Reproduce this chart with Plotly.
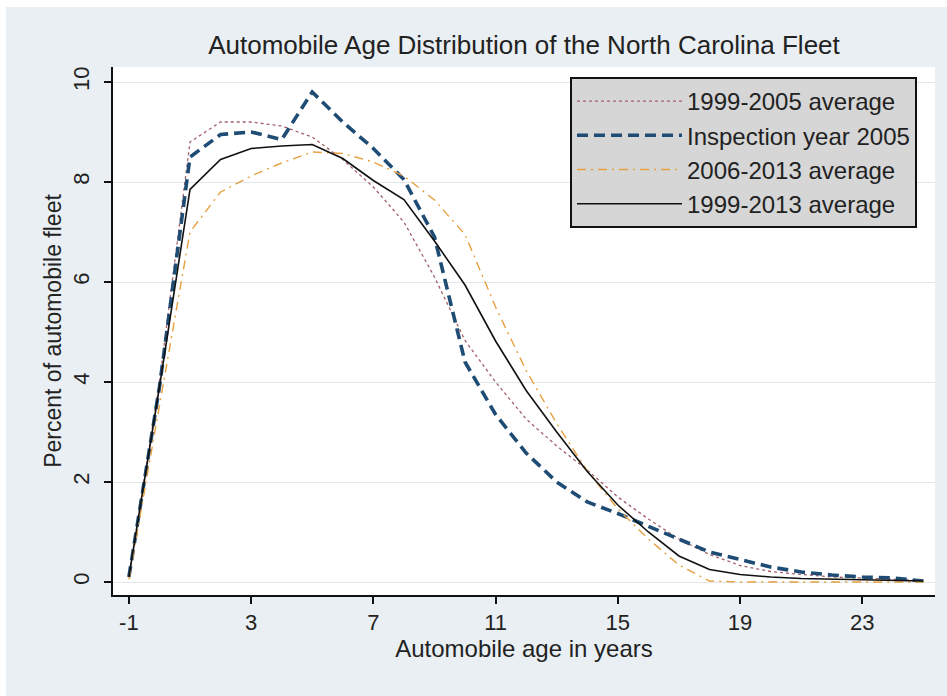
import plotly.graph_objects as go

# Vehicle age in years (-1 = next model year)
age = [-1, 0, 1, 2, 3, 4, 5, 6, 7, 8, 9, 10, 11, 12, 13,
       14, 15, 16, 17, 18, 19, 20, 21, 22, 23, 24, 25]

# Percent of automobile fleet at each age
avg_1999_2005 = [0.10, 4.00, 8.80, 9.20, 9.20, 9.12, 8.90, 8.45, 7.90, 7.20, 6.10,
                 4.83, 4.00, 3.26, 2.72, 2.24, 1.70, 1.26, 0.86, 0.55, 0.33,
                 0.21, 0.15, 0.10, 0.08, 0.06, 0.03]
insp_2005 = [0.10, 3.90, 8.50, 8.95, 9.00, 8.85, 9.80, 9.20, 8.67, 8.05, 6.90,
             4.40, 3.35, 2.58, 2.00, 1.60, 1.37, 1.11, 0.85, 0.60, 0.45,
             0.30, 0.20, 0.14, 0.10, 0.08, 0.02]
avg_2006_2013 = [0.05, 3.50, 7.00, 7.80, 8.12, 8.38, 8.60, 8.57, 8.40, 8.12, 7.64,
                 6.95, 5.50, 4.23, 3.17, 2.22, 1.46, 0.86, 0.34, 0.02, 0.00,
                 0.00, 0.00, 0.00, 0.00, 0.00, 0.00]
avg_1999_2013 = [0.10, 3.90, 7.85, 8.45, 8.67, 8.72, 8.75, 8.47, 8.03, 7.65, 6.82,
                 5.94, 4.82, 3.83, 3.00, 2.21, 1.54, 1.00, 0.52, 0.25, 0.15,
                 0.10, 0.07, 0.06, 0.05, 0.03, 0.02]

x_ticks = [-1, 3, 7, 11, 15, 19, 23]
x_tick_labels = ["-1", "3", "7", "11", "15", "19", "23"]
y_ticks = [0, 2, 4, 6, 8, 10]
y_tick_labels = ["0", "2", "4", "6", "8", "10"]

series = [
    ("1999-2005 average", avg_1999_2005, dict(color="#A5606A", width=1.3, dash="3px,3px")),
    ("Inspection year 2005", insp_2005, dict(color="#1E4C74", width=3.6, dash="11px,6px")),
    ("2006-2013 average", avg_2006_2013, dict(color="#E6A040", width=1.4, dash="9px,5px,2px,5px")),
    ("1999-2013 average", avg_1999_2013, dict(color="#111111", width=1.6)),
]

fig = go.Figure()
for name, vals, line in series:
    fig.add_trace(go.Scatter(x=age, y=vals, mode="lines", name=name,
                             legendgroup=name, line=line))

PAGE_BG = "#E9EFF2"
fig.update_layout(
    width=947, height=696,
    margin=dict(l=113, r=12, t=67, b=101),
    paper_bgcolor=PAGE_BG,
    plot_bgcolor="white",
    font=dict(family="Liberation Sans, Arial, sans-serif", size=22, color="#222222"),
    title=dict(text="Automobile Age Distribution of the North Carolina Fleet",
               x=0.5, xref="paper", xanchor="center",
               y=1 - 45 / 696, yref="container", yanchor="middle",
               font=dict(size=26, color="#222222")),
    showlegend=True,
    legend=dict(x=(570 - 113) / 822, y=(595 - 77) / 528, xanchor="left", yanchor="top",
                bgcolor="#D6D6D6", bordercolor="#111111", borderwidth=2,
                font=dict(size=24, color="#222222"),
                itemwidth=105, tracegroupgap=0, traceorder="normal"),
    xaxis=dict(range=[-1.52, 25.38], tickvals=x_ticks, ticktext=x_tick_labels,
               ticks="outside", ticklen=7, tickwidth=1.5, tickcolor="#111111",
               showline=True, linecolor="#111111", linewidth=2,
               showgrid=False, zeroline=False,
               title=dict(text="Automobile age in years", standoff=6,
                          font=dict(size=24))),
    yaxis=dict(range=[-0.26, 10.3], tickvals=y_ticks, ticktext=y_tick_labels,
               ticks="outside", tickangle=-90,
               ticklen=7, tickwidth=1.5, tickcolor="#111111",
               showline=True, linecolor="#111111", linewidth=2,
               showgrid=True, gridcolor="#E2E7EA", gridwidth=1, zeroline=False,
               ticklabelstandoff=6,
               title=dict(text="Percent of automobile fleet", standoff=1,
                          font=dict(size=23))),
)

# thin white frame along the top and left edges of the page
fig.add_shape(type="rect", xref="paper", yref="paper", layer="below",
              x0=-0.2, x1=(6 - 113) / 822, y0=-0.3, y1=1.3,
              fillcolor="white", line=dict(width=0))
fig.add_shape(type="rect", xref="paper", yref="paper", layer="below",
              x0=-0.2, x1=1.2, y0=(595 - 7) / 528, y1=1.3,
              fillcolor="white", line=dict(width=0))

fig.write_html("out.html")
